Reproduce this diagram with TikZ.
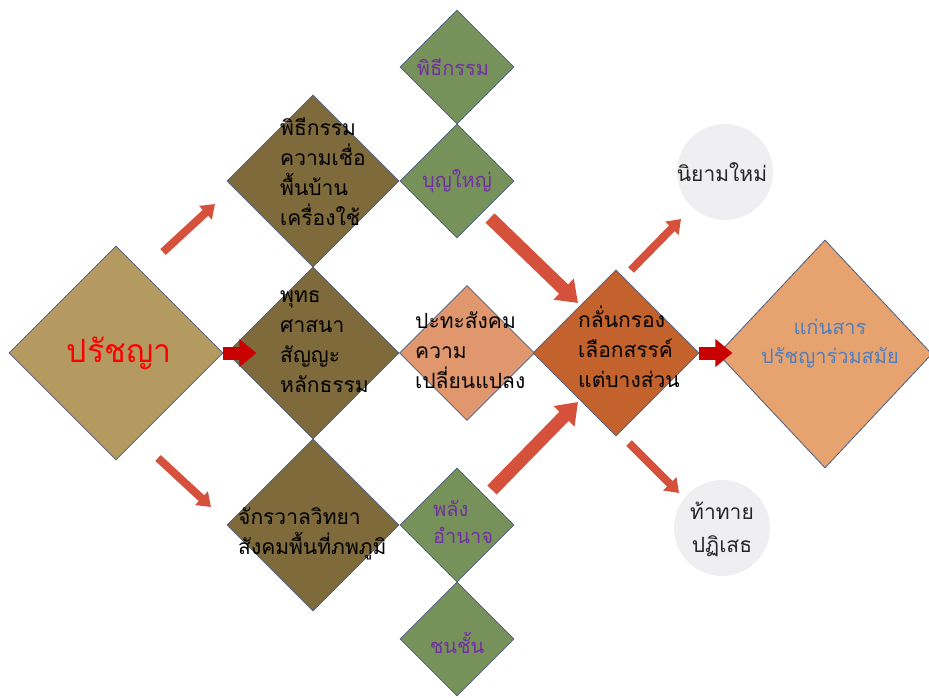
\documentclass[tikz,border=0pt]{standalone}
\usepackage{fontspec}
\newfontfamily\thai[Script=Thai]{Loma}
\usetikzlibrary{shapes.geometric,arrows.meta}

\definecolor{philfill}{HTML}{B49A60}
\definecolor{brownfill}{HTML}{7E6A3A}
\definecolor{greenfill}{HTML}{76925A}
\definecolor{salmonfill}{HTML}{E0976D}
\definecolor{rustfill}{HTML}{C4622D}
\definecolor{peachfill}{HTML}{E6A26F}
\definecolor{circfill}{HTML}{EFEFF1}
\definecolor{arrowred}{HTML}{D6513B}
\definecolor{blockred}{HTML}{C80000}
\definecolor{txtpurple}{HTML}{7030A0}
\definecolor{txtblue}{HTML}{4F7FBF}
\definecolor{edgeblue}{HTML}{4A5D80}

\tikzset{
  dmd/.style={shape=diamond, shape aspect=1, inner sep=0pt, draw=edgeblue, line width=0.8pt},
  bigtxt/.style={font=\thai\fontsize{32}{38}\selectfont},
  bodytxt/.style={font=\thai\fontsize{21}{30}\selectfont, align=left, inner sep=0pt},
  greentxt/.style={font=\thai\fontsize{20}{27}\selectfont, text=txtpurple, align=left, inner sep=0pt},
  circtxt/.style={font=\thai\fontsize{21}{33}\selectfont, text=black!85, align=center, inner sep=0pt},
  thinarrow/.style={draw=arrowred, line width=8pt, -{Triangle[width=18pt,length=13pt]}},
  fatarrow/.style={draw=arrowred, line width=13pt, -{Triangle[width=28pt,length=20pt]}},
  blockarrow/.style={draw=blockred, line width=13pt, -{Triangle[width=27pt,length=17pt]}},
  bubble/.style={circle, fill=circfill, draw=none, minimum size=96pt, inner sep=0pt}
}

\begin{document}
\begin{tikzpicture}[x=1pt,y=-1pt]
\useasboundingbox (0,0) rectangle (929,697);

% source diamond
\node[dmd, fill=philfill, minimum size=214pt] (phil) at (116,353) {};
\node[bigtxt, text=red] (philt) at (119,353) {ปรัชญา};

% three themes
\node[dmd, fill=brownfill, minimum size=172pt] (rite) at (313,181) {};
\node[dmd, fill=brownfill, minimum size=172pt] (budd) at (313,353) {};
\node[dmd, fill=brownfill, minimum size=172pt] (cosm) at (313,525) {};
\node[bodytxt, anchor=north west] (ritet) at (280,118) {พิธีกรรม\\ความเชื่อ\\พื้นบ้าน\\เครื่องใช้};
\node[bodytxt, anchor=north west] (buddt) at (280,290) {พุทธ\\ศาสนา\\สัญญะ\\หลักธรรม};
\node[bodytxt, anchor=north west] (cosmt) at (238,507) {จักรวาลวิทยา\\สังคมพื้นที่ภพภูมิ};

% green satellites
\node[dmd, fill=greenfill, minimum size=114pt] (g1) at (457,67) {};
\node[dmd, fill=greenfill, minimum size=114pt] (g2) at (457,181) {};
\node[dmd, fill=greenfill, minimum size=114pt] (g3) at (457,525) {};
\node[dmd, fill=greenfill, minimum size=114pt] (g4) at (457,639) {};
\node[greentxt] (g1t) at (453,67) {พิธีกรรม};
\node[greentxt] (g2t) at (457,181) {บุญใหญ่};
\node[greentxt, anchor=north west] (g3t) at (433,500) {พลัง\\อำนาจ};
\node[greentxt] (g4t) at (457,643) {ชนชั้น};

% meeting society
\node[dmd, fill=salmonfill, minimum size=135pt] (clash) at (467,353) {};
\node[bodytxt, anchor=north west] (clasht) at (415,312) {ปะทะสังคม\\ความ\\เปลี่ยนแปลง};

% filtering
\node[dmd, fill=rustfill, minimum size=166pt] (filt) at (616,353) {};
\node[bodytxt, anchor=north west] (filtt) at (578,306) {กลั่นกรอง\\เลือกสรรค์\\แต่บางส่วน};

% result
\node[dmd, fill=peachfill, minimum width=214pt, minimum height=228pt] (core) at (825,354) {};
\node[font=\thai\fontsize{20}{29}\selectfont, text=txtblue, align=center] (coret) at (830,344) {แก่นสาร\\ปรัชญาร่วมสมัย};

% outcomes
\node[bubble] (redef) at (725,172) {};
\node[circtxt] (redeft) at (722,172) {นิยามใหม่};
\node[bubble] (chal) at (722,528) {};
\node[circtxt] (chalt) at (722,529) {ท้าทาย\\ปฏิเสธ};

% arrow end points
\coordinate (a1s) at (163,252); \coordinate (a1e) at (215,204);
\coordinate (a2s) at (158,458); \coordinate (a2e) at (211,507);
\coordinate (a3s) at (490,218); \coordinate (a3e) at (578,303);
\coordinate (a4s) at (492,490); \coordinate (a4e) at (578,402);
\coordinate (a5s) at (631,270); \coordinate (a5e) at (681,219);
\coordinate (a6s) at (629,443); \coordinate (a6e) at (679,493);

\draw[thinarrow] (a1s) -- (a1e);
\draw[thinarrow] (a2s) -- (a2e);
\draw[fatarrow] (a3s) -- (a3e);
\draw[fatarrow] (a4s) -- (a4e);
\draw[thinarrow] (a5s) -- (a5e);
\draw[thinarrow] (a6s) -- (a6e);

\draw[blockarrow] (phil.east) -- ([xshift=33pt]phil.east);
\draw[blockarrow] (filt.east) -- ([xshift=33pt]filt.east);
\end{tikzpicture}
\end{document}
